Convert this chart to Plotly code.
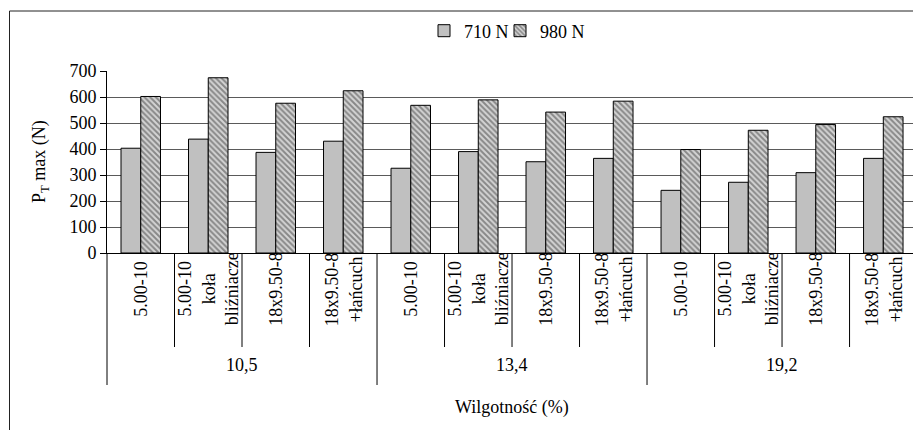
import plotly.graph_objects as go

groups = ["10,5", "13,4", "19,2"]
tyres = ["5.00-10", "5.00-10<br>koła<br>bliźniacze", "18x9.50-8", "18x9.50-8<br>+łańcuch"]
series_names = ["710 N", "980 N"]
v710 = [403, 438, 387, 430, 326, 390, 351, 364, 241, 272, 309, 364]
v980 = [602, 674, 576, 624, 568, 589, 542, 584, 398, 472, 494, 524]
y_ticks = [0, 100, 200, 300, 400, 500, 600, 700]
x_title = "Wilgotność (%)"
y_title = "P<sub>T</sub> max (N)"

FONT = "Liberation Serif"
FS = 18

n_sub = len(tyres)
n = len(groups) * n_sub
xs = list(range(n))
sub_labels = [tyres[i % n_sub] for i in xs]

fig = go.Figure()
fig.add_trace(go.Bar(
    x=xs, y=v710, name=series_names[0], legend="legend",
    marker=dict(color="#c0c0c0", line=dict(color="#000000", width=1)),
))
fig.add_trace(go.Bar(
    x=xs, y=v980, name=series_names[1], legend="legend2",
    marker=dict(color="#d4d4d4", line=dict(color="#000000", width=1),
                pattern=dict(shape="\\", fgcolor="#3c3c3c", bgcolor="#d4d4d4",
                             size=4, solidity=0.5)),
))

plot_h = 182.0
plot_w = 806.0

def py(px_below_axis):
    return -px_below_axis / plot_h

def px(xpix):
    return (xpix - 107) / plot_w

shapes = []
# outer chart border (cropped on right/bottom)
shapes.append(dict(type="rect", xref="paper", yref="paper",
                   x0=px(9.5), x1=1.05, y0=-1.2, y1=(253 - 11) / plot_h,
                   line=dict(color="#222222", width=1), fillcolor="rgba(0,0,0,0)"))
# left edge extension
shapes.append(dict(type="line", xref="paper", yref="paper", x0=0, x1=0,
                   y0=0, y1=py(132), line=dict(color="#000000", width=1)))
for k in range(1, n):
    depth = 132 if k % n_sub == 0 else 94
    shapes.append(dict(type="line", xref="x", yref="paper", x0=k - 0.5, x1=k - 0.5,
                       y0=0, y1=py(depth), line=dict(color="#000000", width=1)))

annotations = []
for i, lab in enumerate(sub_labels):
    annotations.append(dict(x=i, y=py(36), xref="x", yref="paper", text=lab,
                            textangle=-90, showarrow=False, xanchor="center",
                            yanchor="middle", align="center",
                            font=dict(family=FONT, size=FS, color="black")))
for g, lab in enumerate(groups):
    annotations.append(dict(x=g * n_sub + (n_sub - 1) / 2.0, y=py(112), xref="x", yref="paper",
                            text=lab, showarrow=False, xanchor="center", yanchor="middle",
                            font=dict(family=FONT, size=FS, color="black")))
annotations.append(dict(x=px(512), y=py(154), xref="paper", yref="paper",
                        text=x_title, showarrow=False, xanchor="center", yanchor="middle",
                        font=dict(family=FONT, size=FS, color="black")))
annotations.append(dict(x=px(40), y=0.5, xref="paper", yref="paper",
                        text=y_title, textangle=-90, showarrow=False, xanchor="center",
                        yanchor="middle", font=dict(family=FONT, size=FS, color="black")))

leg_common = dict(orientation="h", xanchor="left", y=(253 - 31) / plot_h, yanchor="middle",
                  font=dict(family=FONT, size=FS, color="black"),
                  bgcolor="rgba(0,0,0,0)", itemwidth=30)

fig.update_layout(
    width=913, height=430,
    margin=dict(l=107, r=0, t=71, b=177),
    paper_bgcolor="white", plot_bgcolor="white",
    barmode="group", bargap=0.415, bargroupgap=0,
    font=dict(family=FONT, size=FS, color="black"),
    showlegend=True,
    legend=dict(x=px(424), **leg_common),
    legend2=dict(x=px(500), **leg_common),
    xaxis=dict(range=[-0.5, n - 0.56], showticklabels=False, ticks="",
               showgrid=False, zeroline=False, showline=True,
               linecolor="black", linewidth=1, fixedrange=True),
    yaxis=dict(range=[0, 700], tickvals=y_ticks, ticks="outside", ticklen=6,
               tickcolor="black", showline=True, linecolor="black", linewidth=1,
               showgrid=True, gridcolor="#5a5a5a", gridwidth=1, zeroline=False,
               tickfont=dict(family=FONT, size=FS, color="black"), fixedrange=True),
    shapes=shapes,
    annotations=annotations,
)

fig.write_html("out.html", config={"displayModeBar": False},
               post_script="document.body.style.margin='0';document.body.style.overflow='hidden';")
